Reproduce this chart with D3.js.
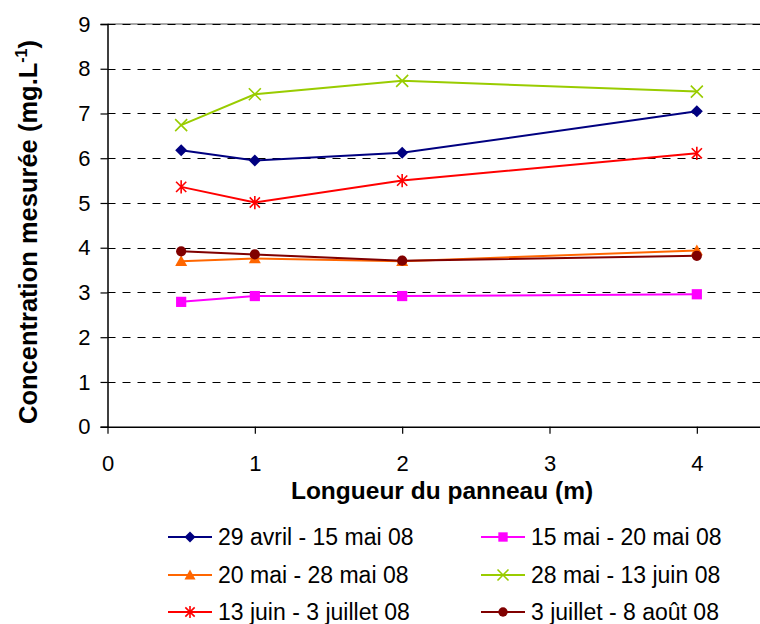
<!DOCTYPE html>
<html>
<head>
<meta charset="utf-8">
<script src="https://cdn.jsdelivr.net/npm/d3@7"></script>
<style>
  html, body { margin: 0; padding: 0; background: #fff; }
  svg { display: block; font-family: "Liberation Sans", Arial, sans-serif; }
</style>
</head>
<body>
<svg id="chart" width="760" height="624"></svg>
<script>
// Panel lengths (m) where concentration was measured
const lengths = [0.5, 1, 2, 4];

// Sampling periods
const periods = [
  "29 avril - 15 mai 08",
  "15 mai - 20 mai 08",
  "20 mai - 28 mai 08",
  "28 mai - 13 juin 08",
  "13 juin - 3 juillet 08",
  "3 juillet - 8 août 08"
];

// Measured concentration (mg.L-1) per period, one value per panel length
const avrilMai = [6.18, 5.95, 6.12, 7.05];
const maiMai1 = [2.79, 2.92, 2.92, 2.96];
const maiMai2 = [3.70, 3.76, 3.70, 3.94];
const maiJuin = [6.74, 7.43, 7.73, 7.49];
const juinJuillet = [5.36, 5.01, 5.50, 6.11];
const juilletAout = [3.92, 3.85, 3.71, 3.82];

const yTicks = [0, 1, 2, 3, 4, 5, 6, 7, 8, 9];
const xTicks = [0, 1, 2, 3, 4];

const colors = ["#000080", "#FF00FF", "#FF6600", "#99CC00", "#FF0000", "#800000"];
const markers = ["diamond", "square", "triangle", "times", "star", "circle"];
const seriesValues = [avrilMai, maiMai1, maiMai2, maiJuin, juinJuillet, juilletAout];

const series = periods.map((name, i) => ({
  name, color: colors[i], marker: markers[i],
  points: lengths.map((x, j) => ({ x, y: seriesValues[i][j] }))
}));

const svg = d3.select("#chart");

const x = d3.scaleLinear().domain([0, 4.5]).range([107.5, 770.5]);
const y = d3.scaleLinear().domain([0, 9]).range([426.7, 24]);

// Horizontal dashed grid
const grid = svg.append("g");
grid.append("line")
  .attr("x1", x(0)).attr("x2", 760)
  .attr("y1", y(9)).attr("y2", y(9))
  .attr("stroke", "#8a8a8a").attr("stroke-width", 1.5);
grid.selectAll("line.g").data(yTicks.filter(d => d > 0))
  .join("line").attr("class", "g")
  .attr("x1", x(0)).attr("x2", 760)
  .attr("y1", d => Math.round(y(d)) + 0.5).attr("y2", d => Math.round(y(d)) + 0.5)
  .attr("stroke", "#000").attr("stroke-width", 1.2)
  .attr("stroke-dasharray", "8,7");

// Axes
const yAxis = svg.append("g")
  .attr("transform", `translate(${x(0)},0)`)
  .call(d3.axisLeft(y).tickValues(yTicks).tickSize(7).tickPadding(10).tickFormat(d3.format("d")));
const xAxis = svg.append("g")
  .attr("transform", `translate(0,${y(0)})`)
  .call(d3.axisBottom(x).tickValues(xTicks).tickSize(7).tickPadding(22).tickFormat(d3.format("d")));

[yAxis, xAxis].forEach(a => {
  a.select(".domain").attr("stroke", "#000").attr("stroke-width", 1.5);
  a.selectAll(".tick line").attr("stroke", "#000").attr("stroke-width", 1.2);
  a.selectAll(".tick text").attr("fill", "#000").attr("font-size", 22)
    .attr("font-family", "'Liberation Sans', Arial, sans-serif");
});
xAxis.select(".domain").attr("d", `M${x(0)},0.5H760`);

// Axis titles
svg.append("text")
  .attr("x", 442).attr("y", 499)
  .attr("text-anchor", "middle")
  .attr("font-size", 24.5).attr("font-weight", "bold")
  .text("Longueur du panneau (m)");

const yTitle = svg.append("text")
  .attr("transform", `translate(37,232) rotate(-90)`)
  .attr("text-anchor", "middle")
  .attr("font-size", 25.5).attr("font-weight", "bold");
yTitle.append("tspan").text("Concentration mesurée (mg.L");
yTitle.append("tspan").attr("dy", -10).attr("font-size", 16).text("-1");
yTitle.append("tspan").attr("dy", 10).text(")");

// Marker drawing
function drawMarker(g, type, color, s) {
  if (type === "diamond") {
    g.append("path").attr("d", `M0,${-s}L${s},0L0,${s}L${-s},0Z`).attr("fill", color);
  } else if (type === "square") {
    const h = s * 0.85;
    g.append("rect").attr("x", -h).attr("y", -h).attr("width", 2 * h).attr("height", 2 * h).attr("fill", color);
  } else if (type === "triangle") {
    g.append("path").attr("d", `M0,${-s}L${s},${s * 0.8}L${-s},${s * 0.8}Z`).attr("fill", color);
  } else if (type === "times") {
    g.append("path").attr("d", `M${-s},${-s}L${s},${s}M${-s},${s}L${s},${-s}`)
      .attr("stroke", color).attr("stroke-width", 1.6).attr("fill", "none");
  } else if (type === "star") {
    const a = s * 0.85;
    g.append("path").attr("d", `M${-a},${-a}L${a},${a}M${-a},${a}L${a},${-a}M0,${-s * 1.1}L0,${s * 1.1}`)
      .attr("stroke", color).attr("stroke-width", 1.6).attr("fill", "none");
  } else if (type === "circle") {
    g.append("circle").attr("r", s * 0.85).attr("fill", color);
  }
}

const line = d3.line().x(d => x(d.x)).y(d => y(d.y));

const plot = svg.append("g");
series.forEach(s => {
  plot.append("path").datum(s.points)
    .attr("d", line).attr("fill", "none")
    .attr("stroke", s.color).attr("stroke-width", 2);
});
series.forEach(s => {
  s.points.forEach(p => {
    const g = plot.append("g").attr("transform", `translate(${x(p.x)},${y(p.y)})`);
    drawMarker(g, s.marker, s.color, 6);
  });
});

// Legend: two columns, three rows
const legend = svg.append("g");
const colX = [168, 481];
const rowY = [537, 575, 612];
series.forEach((s, i) => {
  const cx = colX[i % 2], cy = rowY[Math.floor(i / 2)];
  const g = legend.append("g").attr("transform", `translate(${cx},${cy})`);
  g.append("line").attr("x1", 0).attr("x2", 44).attr("y1", 0).attr("y2", 0)
    .attr("stroke", s.color).attr("stroke-width", 2);
  const m = g.append("g").attr("transform", "translate(22,0)");
  drawMarker(m, s.marker, s.color, 5.5);
  g.append("text").attr("x", 50).attr("y", 7.5)
    .attr("font-size", 23).attr("fill", "#000").text(s.name);
});
</script>
</body>
</html>
